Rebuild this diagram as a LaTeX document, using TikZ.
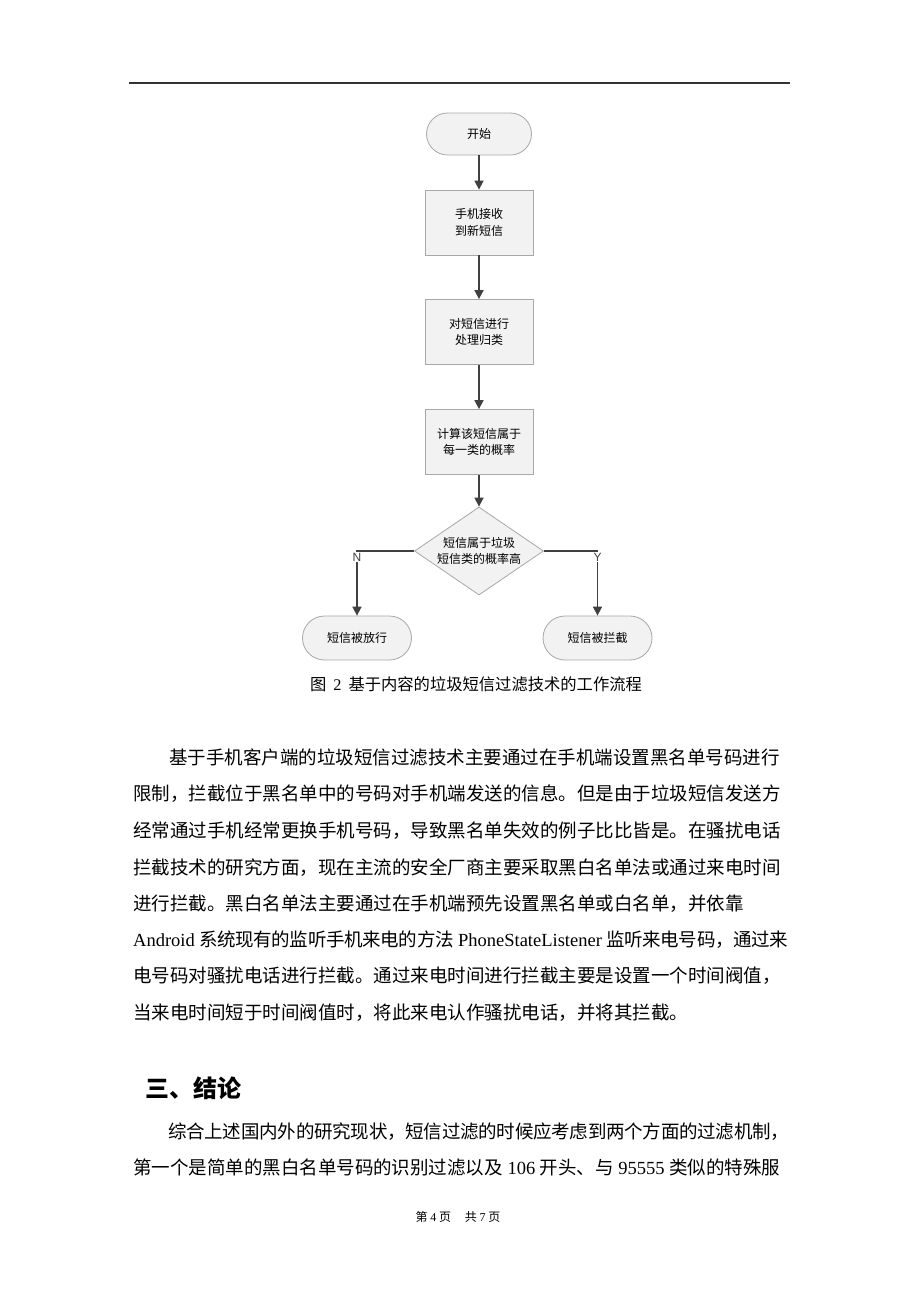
\documentclass[tikz,border=0pt]{standalone}
\usepackage{fontspec}
\setmainfont{Liberation Serif}
\newfontfamily\cjk{Noto Sans CJK SC}
\newfontfamily\lat{Liberation Serif}
\newfontfamily\sans{Liberation Sans}
\usetikzlibrary{shapes.geometric,arrows.meta}
\definecolor{arr}{HTML}{404040}
\definecolor{bord}{HTML}{A8A8A8}
\definecolor{boxfill}{HTML}{F2F2F2}
\definecolor{rule}{HTML}{333333}
\def\jsendmark{\jsmark}
\def\js#1{\def\jstmp{#1}\ifx\jstmp\jsendmark\else#1\hskip0pt plus 1fil minus 1fil\relax\expandafter\js\fi}
\newcommand{\jline}[2]{\hbox to #1{\js #2\jsmark\unskip}}
\tikzset{
  body/.style={anchor=west, inner sep=0pt, font=\cjk\fontsize{18.5}{18.5}\selectfont, text height=16.3pt, text depth=2.2pt},
  flow/.style={draw=bord, fill=boxfill, line width=0.8pt, inner sep=0pt, align=center, font=\cjk\fontsize{12}{16.5}\selectfont},
  term/.style={flow, rounded corners=21pt, minimum width=105pt, minimum height=42pt},
  termb/.style={flow, rounded corners=22pt, minimum width=109pt, minimum height=44pt},
  proc/.style={flow, minimum width=108pt, minimum height=65pt},
  dec/.style={flow, diamond, aspect=1.466, minimum width=129pt, minimum height=88pt},
  arrow/.style={draw=arr, line width=1.6pt, -{Triangle[length=9pt,width=9pt]}},
  lbl/.style={fill=white, inner sep=1pt, font=\sans\fontsize{12}{12}\selectfont, text=arr},
}
\begin{document}
\begin{tikzpicture}[x=1pt,y=-1pt]
\useasboundingbox (0,0) rectangle (920,1302);
\fill[white] (0,0) rectangle (920,1302);
% header rule
\coordinate (hl) at (129,83);
\coordinate (hr) at (790,83);
\draw[rule, line width=1.2pt] (hl) -- (hr);
% flowchart
\node[term] (start) at (479,134) {开始};
\node[proc] (b1) at (479,222.5) {手机接收\\到新短信};
\node[proc] (b2) at (479,332) {对短信进行\\处理归类};
\node[proc] (b3) at (479,442) {计算该短信属于\\每一类的概率};
\node[dec] (dec) at (479,551) {短信属于垃圾\\短信类的概率高};
\node[termb] (pass) at (357,638) {短信被放行};
\node[termb] (block) at (597.5,638) {短信被拦截};
\draw[arrow] (start) -- (b1);
\draw[arrow] (b1) -- (b2);
\draw[arrow] (b2) -- (b3);
\draw[arrow] (b3) -- (dec);
\draw[arrow] (dec.west) -| (pass.north);
\draw[arrow] (dec.east) -| (block.north);
\node[lbl, anchor=north] (nlab) at ([yshift=-1pt]pass.north |- dec.west) {N};
\node[lbl, anchor=north] (ylab) at ([yshift=-1pt]block.north |- dec.east) {Y};
% caption
\node[inner sep=0pt, font=\cjk\fontsize{16.3}{16.3}\selectfont] (cap) at (476,684) {图\hspace{7pt}{\lat 2}\hspace{7pt}基于内容的垃圾短信过滤技术的工作流程};
% body text
\node[body] (t1) at (169,757) {基于手机客户端的垃圾短信过滤技术主要通过在手机端设置黑名单号码进行};
\node[body] (t2) at (133,793) {限制，拦截位于黑名单中的号码对手机端发送的信息。但是由于垃圾短信发送方};
\node[body] (t3) at (133,830) {经常通过手机经常更换手机号码，导致黑名单失效的例子比比皆是。在骚扰电话};
\node[body] (t4) at (133,867) {拦截技术的研究方面，现在主流的安全厂商主要采取黑白名单法或通过来电时间};
\node[body] (t5) at (133,903) {进行拦截。黑白名单法主要通过在手机端预先设置黑名单或白名单，并依靠};
\node[body] (t6) at (133,939) {\jline{655pt}{{{\lat Android }}系统现有的监听手机来电的方法{{\lat\ PhoneStateListener }}监听来电号码，通过来}};
\node[body] (t7) at (133,975) {电号码对骚扰电话进行拦截。通过来电时间进行拦截主要是设置一个时间阀值，};
\node[body] (t8) at (133,1012) {当来电时间短于时间阀值时，将此来电认作骚扰电话，并将其拦截。};
% heading
\node[anchor=west, inner sep=0pt, font=\cjk\bfseries\fontsize{24}{24}\selectfont, text height=21pt, text depth=3pt] (head) at (145,1088) {三、结论};
\node[body] (t9) at (168,1131) {\jline{621pt}{综合上述国内外的研究现状，短信过滤的时候应考虑到两个方面的过滤机制，}};
\node[body] (t10) at (133,1167) {\jline{647pt}{第一个是简单的黑白名单号码的识别过滤以及{{\lat\ 106 }}开头、与{{\lat\ 95555 }}类似的特殊服}};
% footer
\node[inner sep=0pt, font=\cjk\fontsize{12}{12}\selectfont] (foot) at (458,1217) {第 {\lat 4} 页\hspace{14pt}共 {\lat 7} 页};
\end{tikzpicture}
\end{document}
